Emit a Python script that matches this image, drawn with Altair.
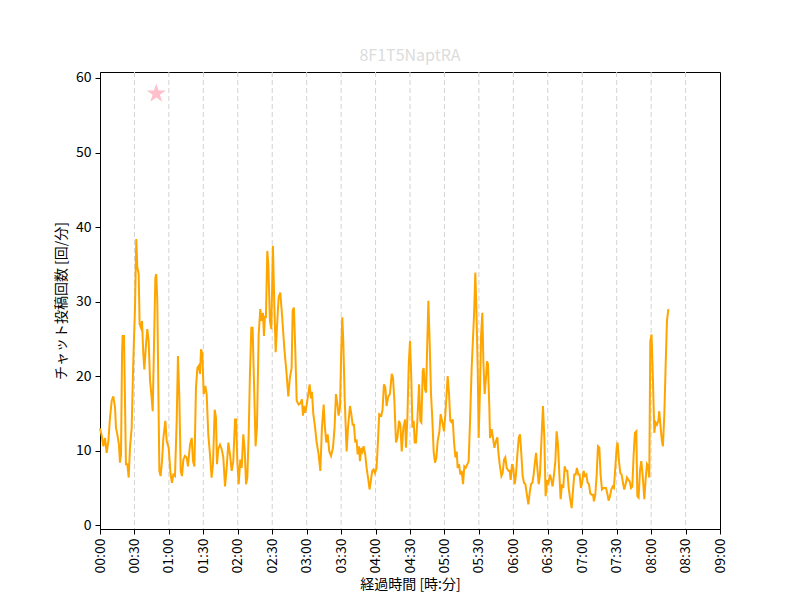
import altair as alt
import pandas as pd

# --- data (elapsed minutes, chat posts per minute) ---
seg1_min = [0, 1.5, 2.9, 4.4, 5.8, 7.3, 8.7, 10.2, 11.6, 13.1, 13.9, 15.1, 16.5, 17.4, 18.3,
            19.2, 19.7, 20.9, 21.5, 22.6, 23.8, 25, 26.1, 27.6, 29, 30.5, 31.6, 32.5, 33.7, 34.5,
            35.7, 36.6, 37.7, 38.6, 40.1, 41.2, 42.4, 43.6, 44.7, 45.9, 47, 48.2, 49, 49.9, 50.8,
            51.7, 52.8, 54, 55.2, 56.9, 58.1, 59.8, 61.5, 62.7, 63.8, 65.3, 66.8, 67.9, 69.1, 70.3,
            71.4, 72.6, 74, 75.5, 76.6, 78.4, 79.9, 81, 82.2, 83.6, 84.8, 86, 87.1, 88, 89.1,
            90.3, 91.7, 92.9, 94.3, 95.8, 97.2, 98.4, 99.9, 101, 101.9, 103, 104.5, 106, 107.4, 108.9,
            110.3, 111.8, 113.2, 114.7, 116.1, 117.6, 118.5, 119.6, 120.8,
            122.2, 123.4, 124.8, 126, 127.2, 128.3, 129.5]
seg1_cnt = [13, 12, 10.6, 11.7, 9.7, 11.3, 14.4, 16.7, 17.3, 15.8, 13.1, 12.2, 10.8, 8.4, 9.5,
            23, 25.4, 25.4, 19.4, 8.2, 8.2, 6.4, 10.4, 13.1, 22, 29.2, 38.4, 34.6, 33.7, 27,
            26.5, 27.4, 23, 20.9, 24.3, 26.3, 24.7, 19.4, 17.6, 15.3, 23.8, 33.2, 33.7, 30.1, 18.5,
            7.3, 6.6, 8.6, 11.7, 14, 11.3, 10.4, 6.8, 5.7, 6.8, 6.6, 14, 22.7, 17.1, 7.3,
            6.6, 8.8, 9.3, 9.1, 7.9, 10.8, 11.7, 8.6, 7.9, 18.5, 21.1, 21.4, 20.3, 23.6, 23,
            17.6, 18.7, 17.6, 12.2, 9.5, 6.4, 8.2, 15.5, 14.4, 8.2, 10.2, 10.8, 10.2, 9.1, 5.2,
            7.7, 11.1, 9.5, 7.3, 8.6, 14.2, 14.2, 8.6, 5.5,
            8.8, 7.7, 12.2, 10.2, 5.5, 6.4, 12.2]

seg2_min = [130.6, 131.8, 132.9, 134.1, 135.5, 136.7, 138.2, 139.6, 140.8, 141.9,
            142.8, 143.7, 144.5, 145.7, 146.6, 148, 149.2, 150.6, 151.8, 153,
            154.1, 155.6, 157, 158.5, 160.5, 162.3, 164, 165.4, 166.9, 167.8,
            168.9, 170.1, 171.3, 173, 174.7, 175.9, 176.8, 177.6, 178.8, 180,
            181.1, 182.6, 183.7, 184.6, 185.8, 187.2, 188.7, 190.4, 191.9, 193.3,
            194.8, 195.9, 197.1, 198.3, 199.7, 201.2, 202.9, 204.3, 205.5, 206.7,
            207.8, 209, 210.1, 211, 211.9, 213.1, 214.8, 216, 217.7, 218.9,
            220, 221.2, 222.3, 223.5, 224.4, 225.5, 226.4, 227.6, 228.7, 229.6,
            231, 232.2, 233.7, 234.8, 236, 237.1, 238.3, 239.5, 240.9, 242.1,
            243.2, 245, 246.1, 247.3, 248.5, 249.6, 251.1, 252.5]
seg2_cnt = [20.3, 26.5, 26.5, 19.4, 10.6, 13.1, 25.6, 29, 27.4, 28.5,
            25.4, 28.1, 27.8, 36.8, 35, 27.4, 26.3, 37.5, 29.7, 23.2,
            26.5, 30.6, 31.2, 28.3, 23.8, 20.7, 17.3, 19.8, 21.1, 28.8,
            29.2, 23.4, 16.7, 16.2, 16.4, 16.9, 14.7, 16, 15.1, 16.2,
            17.3, 18.9, 17, 17.9, 14.9, 13.3, 11.1, 9.5, 7.3, 13.1,
            16.2, 13.1, 11.1, 12.2, 9.9, 9.3, 10.4, 13.1, 17.6, 16.4,
            14.7, 15.8, 23.2, 27.9, 24.7, 17, 9.9, 13.1, 16, 14.9,
            13.5, 13.5, 11.1, 11.5, 9.5, 10.6, 8.6, 10.4, 9.9, 10.6,
            9.5, 7.7, 6.1, 4.8, 6.1, 7.3, 7.5, 7, 7.7, 11.3,
            14.9, 14.7, 15.5, 18.9, 18.5, 16, 17.3, 17.6]

seg3_min = [254.1, 255.2, 256.4, 257.8, 259, 260.4, 261.6, 262.8, 264.2, 265.7,
            266.5, 267.7, 268.9, 270, 271.2, 272.1, 273.2, 274.1, 275.2, 276.4,
            277.9, 279, 279.9, 281.1, 281.9, 283.1, 284, 284.8, 286, 287.1,
            288.3, 289.5, 290.6, 291.8, 293, 294.1, 295.6, 296.7, 298.2, 299.6,
            300.8, 302, 302.8, 304, 305.1, 306.3, 307.2, 308.3, 309.5, 310.7,
            311.5, 312.7, 313.9, 315, 316.2, 317.3, 318.5, 320, 321.1, 322.3,
            323.7, 324.9, 325.8, 326.9, 327.8, 329, 329.8, 331, 331.9, 333,
            333.9, 335, 336.2, 337.1, 337.9, 339.1, 339.7, 341.1, 342.3, 343.5,
            344.9, 346.1, 346.9, 348.1, 349.6, 350.7, 351.9, 353, 354.2, 355.7,
            356.8, 357.7, 358.9, 360, 361.2, 362.3, 363.5, 364.7, 365.8, 367,
            368.1, 369.3, 370.5, 371.6, 373.1, 374.2, 375.4, 376.6, 377.7, 378.9,
            379.8, 380.9, 382.1]
seg3_cnt = [20.3, 19.8, 16.7, 11.1, 11.7, 14, 13.5, 9.9, 13.1, 14.2,
            10.4, 14.2, 21.6, 24.7, 19.4, 13.1, 14, 11.1, 11.1, 14,
            18.9, 14, 13.8, 20.7, 21.1, 18.2, 17.8, 23, 30.1, 24.7,
            17.6, 14, 9.9, 8.4, 9.1, 11.3, 12.6, 14.9, 13.8, 12.6,
            14.9, 17.9, 20, 17.6, 14, 13.8, 14.2, 11.3, 9.1, 9.9,
            7.7, 8.2, 6.8, 7.3, 5.5, 7.9, 7.7, 8.2, 8.6, 14,
            21.1, 25.2, 28.3, 33.9, 29.2, 20.7, 11.7, 18.5, 25.4, 28.5,
            22, 17.6, 19.8, 22, 21.6, 15.8, 11.7, 12.9, 11.7, 10.4,
            11.3, 11.8, 9.9, 8.2, 6.6, 7, 8.8, 9.1, 7.7, 7.3,
            7.3, 6.1, 8.2, 7.7, 5.5, 6.8, 9.5, 11.7, 12.2, 9.5,
            6.6, 5.7, 5.5, 4.3, 2.8, 4.3, 5.5, 5.7, 6.8, 8.6,
            9.7, 7.7, 5.5]

seg4_min = [383.2, 384.7, 385.8, 387, 388.1, 389.6, 390.7, 391.9, 393.1, 394.2,
            395.4, 396.6, 397.7, 398.9, 400.1, 401.2, 402.4, 403.5, 404.7, 405.8,
            407, 408.2, 409.3, 410.8, 411.9, 413.1, 414.3, 415.4, 416.6, 417.7,
            418.9, 420.1, 421.2, 422.4, 423.6, 424.7, 425.9, 427, 428.2, 429.4,
            430.2, 431.4, 432.6, 433.7, 434.9, 436, 437.2, 438.4, 439.5, 440.7,
            441.8, 443, 444.2, 445.3, 446.5, 447.6, 448.8, 450, 450.8, 452,
            453.2, 454.3, 455.5, 456.6, 457.8, 459, 460.1, 461.3, 462.5, 463.6,
            464.8, 465.9, 467.1, 468, 469.1, 470.3, 471.4, 472.6, 474.1, 475.2,
            476.4, 477.5, 478.4, 479.3, 480.4, 481.6, 482.8, 483.9, 485.1, 486.3,
            487.1, 488.3, 489.4, 490.3, 491.5, 492.6, 493.8, 495]
seg4_cnt = [6.8, 12.2, 16, 11.7, 3.9, 6.1, 5.7, 6.8, 6.1, 5.2,
            6.8, 8.6, 12.6, 10.8, 6.8, 3.5, 5.5, 5, 7.9, 7.3,
            7.3, 5, 3.7, 2.3, 4.6, 6.8, 6.8, 7.7, 6.8, 6.8,
            5, 5.9, 7.3, 6.6, 6.8, 5.7, 5.5, 4.3, 4.1, 4.1,
            3.2, 4.1, 6.8, 10.6, 10.4, 6.8, 4.8, 5, 5, 5,
            4.3, 3.3, 3.9, 4.8, 5.2, 5, 7.7, 10.4, 11.1, 8.6,
            7, 6.8, 5.7, 4.8, 5.5, 6.4, 6.1, 5.9, 5, 5.2,
            9.5, 12.4, 12.6, 3.9, 3.7, 7.3, 8.6, 6.8, 3.5, 6.1,
            8.2, 7.9, 6.4, 24.7, 25.6, 19.4, 12.4, 13.8, 13.5, 14,
            15.3, 13.1, 11.3, 10.6, 14.9, 21.1, 27.4, 29]

star_min = [49.0]
star_cnt = [57.9]

tick_minutes = list(range(0, 541, 30))
grid_minutes = list(range(30, 540, 30))
y_ticks = [0, 10, 20, 30, 40, 50, 60]

title_text = "8F1T5NaptRA"
x_title = "経過時間 [時:分]"
y_title = "チャット投稿回数 [回/分]"

FONT = "Noto Sans CJK JP"

minutes = seg1_min + seg2_min + seg3_min + seg4_min
counts = seg1_cnt + seg2_cnt + seg3_cnt + seg4_cnt
n = min(len(minutes), len(counts))
df = pd.DataFrame({"minute": minutes[:n], "count": counts[:n]})
star_df = pd.DataFrame({"minute": star_min, "count": star_cnt})
grid_df = pd.DataFrame({"minute": grid_minutes})

x_scale = alt.Scale(domain=[0, 540], nice=False, zero=False)
y_scale = alt.Scale(domain=[-0.5, 60.8], nice=False, zero=False)

label_expr = ("(floor(datum.value/60) < 10 ? '0' : '') + floor(datum.value/60) + ':' + "
              "(datum.value % 60 < 10 ? '0' : '') + (datum.value % 60)")

x_axis = alt.Axis(values=tick_minutes, tickCount=40, labelExpr=label_expr,
                  labelAngle=270, grid=False, titlePadding=5,
                  titleFontWeight="normal")
y_axis = alt.Axis(values=y_ticks, tickCount=20, grid=False, titlePadding=7,
                  titleFontWeight="normal")

grid = alt.Chart(grid_df).mark_rule(color="#d3d3d3", strokeDash=[5, 3],
                                    strokeWidth=1).encode(
    x=alt.X("minute:Q", scale=x_scale, title=x_title, axis=x_axis),
)

line = alt.Chart(df).mark_line(color="#FFA500", strokeWidth=2).encode(
    x=alt.X("minute:Q", scale=x_scale, title=x_title, axis=x_axis),
    y=alt.Y("count:Q", scale=y_scale, title=y_title, axis=y_axis),
)

star_path = ("M0,-1L0.2245,-0.309L0.951,-0.309L0.363,0.118L0.588,0.809L0,0.382"
             "L-0.588,0.809L-0.363,0.118L-0.951,-0.309L-0.2245,-0.309Z")
star = alt.Chart(star_df).mark_point(shape=star_path, filled=True, color="#FFC0CB",
                                     opacity=1, size=412, strokeWidth=0).encode(
    x=alt.X("minute:Q", scale=x_scale, title=x_title, axis=x_axis),
    y=alt.Y("count:Q", scale=y_scale, title=y_title, axis=y_axis),
)

chart = alt.layer(grid, line, star).properties(
    width=620,
    height=457,
    background="white",
    title=alt.TitleParams(title_text, color="#dcdcdc", fontSize=16, font=FONT,
                          fontWeight="normal", anchor="middle", offset=7),
    autosize=alt.AutoSizeParams(type="none"),
    padding={"left": 92, "top": 64, "right": 72, "bottom": 63},
).configure_view(
    stroke="black", strokeWidth=1
).configure_axis(
    labelFont=FONT, titleFont=FONT, labelFontSize=14, titleFontSize=14,
    labelColor="black", titleColor="black", titleFontWeight="normal",
    domainColor="black", tickColor="black", tickSize=5, labelPadding=4,
    domainWidth=1, tickWidth=1, labelFlush=False, labelOverlap=False,
)

chart.save("out.html", embed_options={"renderer": "svg", "actions": False})
